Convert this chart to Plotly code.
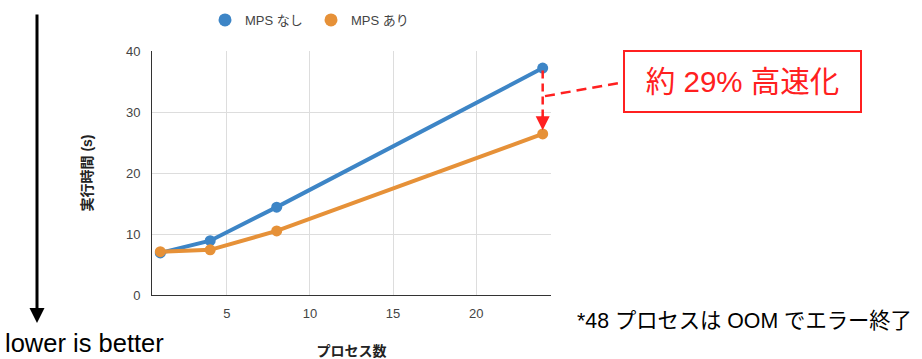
import plotly.graph_objects as go

processes = [1, 4, 8, 24]
mps_off = [6.9, 8.9, 14.4, 37.2]
mps_on = [7.1, 7.4, 10.5, 26.4]
series_names = ["MPS なし", "MPS あり"]
x_ticks = [5, 10, 15, 20]
y_ticks = [0, 10, 20, 30, 40]

BLUE = "#3d85c6"
ORANGE = "#e69138"
RED = "#ff2020"
FONT = "Liberation Sans, Arial, 'Noto Sans CJK JP', sans-serif"

fig = go.Figure()
for ys, col, name in [(mps_off, BLUE, series_names[0]), (mps_on, ORANGE, series_names[1])]:
    fig.add_trace(go.Scatter(x=processes, y=ys, mode="lines+markers", name=name,
                             line=dict(color=col, width=4), marker=dict(color=col, size=11),
                             showlegend=False))
# legend-only dots
for col, name in [(BLUE, series_names[0]), (ORANGE, series_names[1])]:
    fig.add_trace(go.Scatter(x=[None], y=[None], mode="markers", name=name,
                             marker=dict(color=col, size=13)))

pct = round((1 - mps_on[-1] / mps_off[-1]) * 100)

# dashed vertical arrow between last points
fig.add_shape(type="line", xref="x", yref="y", x0=processes[-1], x1=processes[-1],
              y0=mps_off[-1] - 0.4, y1=mps_on[-1] + 2.8,
              line=dict(color=RED, width=2.5, dash="8px,5px"))
fig.add_annotation(x=processes[-1], y=mps_on[-1] + 0.6, xref="x", yref="y", text="",
                   showarrow=True, arrowhead=2, arrowwidth=2, arrowsize=1.4,
                   arrowcolor=RED, ax=0, ay=-16)
# dashed connector to box
fig.add_shape(type="line", xref="paper", yref="y", x0=0.985, x1=1.175,
              y0=32.6, y1=34.8, line=dict(color=RED, width=2.5, dash="10px,6px"))
fig.add_annotation(xref="paper", yref="paper", x=1.479, y=0.873, showarrow=False,
                   text=f"約 {pct}% 高速化", font=dict(family=FONT, size=29.5, color=RED),
                   bordercolor=RED, borderwidth=2, borderpad=0, width=235, height=59,
                   bgcolor="white", align="center", xanchor="center", yanchor="middle")

# left "lower is better" arrow
fig.add_annotation(xref="paper", yref="paper", x=(37 - 152) / 399, y=(295 - 323) / 244,
                   text="", showarrow=True, arrowhead=2, arrowwidth=3, arrowsize=1,
                   arrowcolor="black", ax=0, ay=-310)
fig.add_annotation(xref="paper", yref="paper", x=(3 - 152) / 399, y=(295 - 343) / 244,
                   text="lower is better", showarrow=False, xanchor="left", yanchor="middle",
                   font=dict(family=FONT, size=25.5, color="black"))
fig.add_annotation(xref="paper", yref="paper", x=(575 - 152) / 399, y=(295 - 321) / 244,
                   text="*48 プロセスは OOM でエラー終了", showarrow=False, xanchor="left",
                   yanchor="middle", font=dict(family=FONT, size=21.3, color="black"))

fig.update_layout(
    width=922, height=359,
    margin=dict(l=152, r=371, t=51, b=64, autoexpand=False),
    paper_bgcolor="white", plot_bgcolor="white",
    font=dict(family=FONT, size=13, color="#444"),
    legend=dict(orientation="h", xref="container", yref="container",
                x=205 / 922, y=1 - 20 / 359, xanchor="left", yanchor="middle",
                font=dict(size=13, color="#444"), entrywidth=61, entrywidthmode="pixels",
                itemclick=False),
    xaxis=dict(range=[0.5, 24.5], tickvals=x_ticks, showgrid=True, gridcolor="#dddddd",
               showline=True, linecolor="#333", linewidth=1, zeroline=False,
               ticks="", ticklabelstandoff=6, automargin=False,
               title=dict(text="プロセス数", standoff=32,
                          font=dict(size=14, color="#222", weight="bold"))),
    yaxis=dict(range=[0, 40], tickvals=y_ticks, showgrid=True, gridcolor="#dddddd",
               showline=True, linecolor="#333", linewidth=1, zeroline=False,
               ticks="", ticklabelstandoff=8, automargin=False,
               title=dict(text="実行時間 (s)", standoff=30,
                          font=dict(size=14, color="#222", weight="bold"))),
)

fig.write_html("out.html")
